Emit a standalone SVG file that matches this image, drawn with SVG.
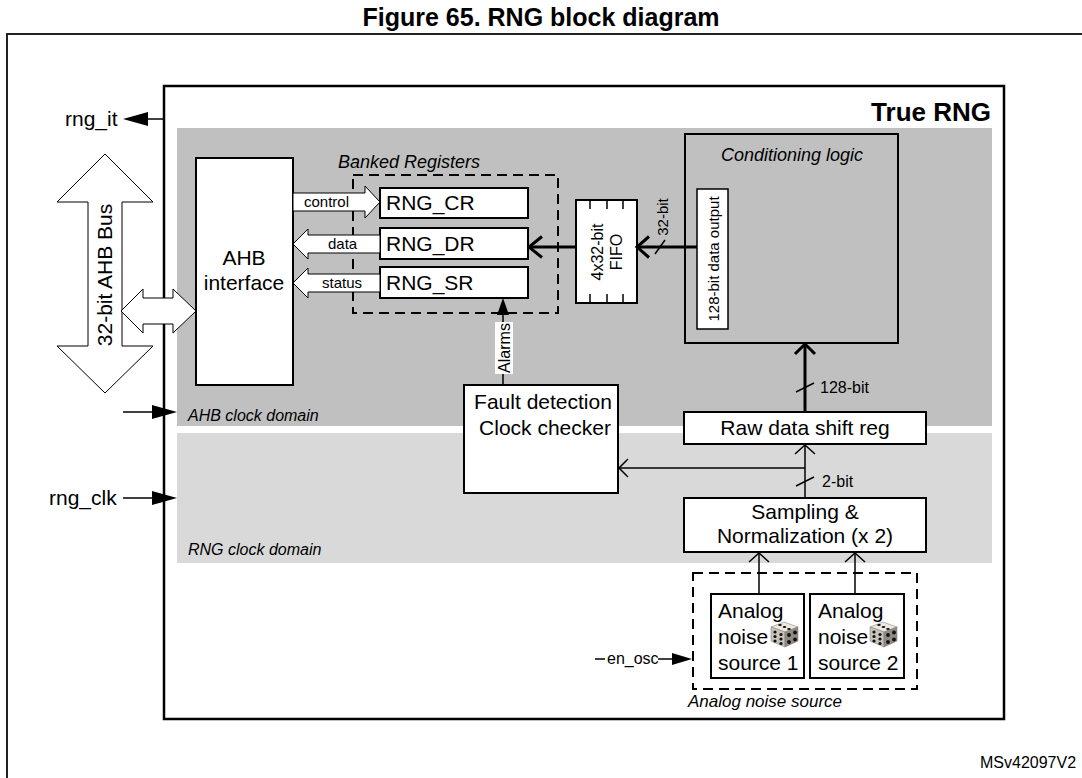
<svg xmlns="http://www.w3.org/2000/svg" width="1082" height="778" viewBox="0 0 1082 778">
<style>
.t{font-family:"Liberation Sans",Arial,sans-serif;fill:#000}
.i{font-style:italic}
.box{fill:#fff;stroke:#000;stroke-width:2}
.dash{fill:none;stroke:#000;stroke-width:2;stroke-dasharray:10 6}
.ln{fill:none;stroke:#000;stroke-width:1.5}
.th{fill:none;stroke:#000;stroke-width:3}
.fat{fill:#fff;stroke:#000;stroke-width:1}
.fill{fill:#000;stroke:none}
</style>
<defs>
<g id="die">
<polygon points="2,5 15,0 29,5 16,10" fill="#ebe7e1" stroke="#7a766f" stroke-width="0.5"/>
<polygon points="2,5 16,10 16,25 2,19" fill="#c9c4bb" stroke="#7a766f" stroke-width="0.5"/>
<polygon points="16,10 29,5 29,19 16,25" fill="#8f8a82" stroke="#7a766f" stroke-width="0.5"/>
<g fill="#111">
<ellipse cx="11" cy="3" rx="1.8" ry="1.1"/><ellipse cx="15.5" cy="5" rx="1.8" ry="1.1"/><ellipse cx="20" cy="7" rx="1.8" ry="1.1"/>
<circle cx="6" cy="10" r="1.6"/><circle cx="12" cy="12.5" r="1.6"/><circle cx="6" cy="14.5" r="1.6"/><circle cx="12" cy="17" r="1.6"/><circle cx="6" cy="19" r="1.6"/><circle cx="12" cy="21.5" r="1.6"/>
<circle cx="20" cy="13" r="1.9"/><circle cx="26" cy="10.5" r="1.9"/><circle cx="20" cy="20" r="1.9"/><circle cx="26" cy="17.5" r="1.9"/>
</g>
</g>
</defs>
<rect width="1082" height="778" fill="#fff"/>
<text class="t" x="541" y="26" font-size="25" font-weight="bold" text-anchor="middle">Figure 65. RNG block diagram</text>
<path d="M7,778 V34 H1082" fill="none" stroke="#222" stroke-width="2"/>

<g id="true-rng">
<rect x="164" y="86" width="840" height="633" fill="#fff" stroke="#000" stroke-width="2.5"/>
<text class="t" x="991" y="121" font-size="26" font-weight="bold" text-anchor="end">True RNG</text>
</g>
<g id="ahb-clock-domain">
<rect x="177" y="128" width="815" height="298" fill="#c0c0c0"/>
<text class="t i" x="188" y="421" font-size="16">AHB clock domain</text>
</g>
<g id="rng-clock-domain">
<rect x="177" y="433" width="815" height="130" fill="#d9d9d9"/>
<text class="t i" x="188" y="555" font-size="16">RNG clock domain</text>
</g>

<g id="ahb-interface">
<rect class="box" x="196" y="158" width="97" height="227"/>
<text class="t" x="244" y="265" font-size="21" text-anchor="middle">AHB</text>
<text class="t" x="244" y="290" font-size="21" text-anchor="middle">interface</text>
</g>

<g id="banked-registers">
<rect class="dash" x="353" y="175" width="205" height="138"/>
<text class="t i" x="338" y="168" font-size="18">Banked Registers</text>
</g>
<g id="rng-cr">
<rect class="box" x="380" y="188" width="148" height="30"/>
<text class="t" x="386" y="210" font-size="21">RNG_CR</text>
</g>
<g id="rng-dr">
<rect class="box" x="380" y="228" width="148" height="31"/>
<text class="t" x="386" y="251" font-size="21">RNG_DR</text>
</g>
<g id="rng-sr">
<rect class="box" x="380" y="267" width="148" height="31"/>
<text class="t" x="386" y="290" font-size="21">RNG_SR</text>
</g>

<g id="fifo">
<rect class="box" x="576" y="200" width="61" height="103"/>
<path class="ln" d="M590,200v9M607,200v9M623,200v9M590,303v-9M607,303v-9M623,303v-9"/>
<text class="t" transform="translate(603,252) rotate(-90)" font-size="16" text-anchor="middle">4x32-bit</text>
<text class="t" transform="translate(622,252) rotate(-90)" font-size="16" text-anchor="middle">FIFO</text>
</g>

<g id="conditioning-logic">
<rect x="685" y="134" width="213" height="209" fill="#c0c0c0" stroke="#000" stroke-width="2"/>
<text class="t i" x="792" y="161" font-size="18" text-anchor="middle">Conditioning logic</text>
<rect x="697" y="189" width="31" height="140" fill="#fff" stroke="#000" stroke-width="1.5"/>
<text class="t" transform="translate(719,259) rotate(-90)" font-size="15" text-anchor="middle">128-bit data output</text>
</g>

<g id="fault-detection">
<rect class="box" x="464" y="385" width="154" height="108"/>
<text class="t" x="543" y="409" font-size="21" text-anchor="middle">Fault detection</text>
<text class="t" x="545" y="435" font-size="21" text-anchor="middle">Clock checker</text>
</g>

<g id="raw-data-shift-reg">
<rect class="box" x="684" y="412" width="242" height="32"/>
<text class="t" x="805" y="435" font-size="21" text-anchor="middle">Raw data shift reg</text>
</g>

<g id="sampling">
<rect class="box" x="684" y="498" width="242" height="54"/>
<text class="t" x="805" y="519" font-size="21" text-anchor="middle">Sampling &amp;</text>
<text class="t" x="805" y="543" font-size="21" text-anchor="middle">Normalization (x 2)</text>
</g>

<g id="analog-noise-source">
<rect class="dash" x="693" y="573" width="224" height="116"/>
<text class="t i" x="688" y="707" font-size="17">Analog noise source</text>
</g>
<g id="noise-source-1">
<rect class="box" x="711" y="594" width="93" height="84"/>
<text class="t" x="718" y="618" font-size="21">Analog</text>
<text class="t" x="718" y="644" font-size="21">noise</text>
<text class="t" x="718" y="670" font-size="21">source 1</text>
<use href="#die" x="769" y="622"/>
</g>
<g id="noise-source-2">
<rect class="box" x="810" y="594" width="94" height="84"/>
<text class="t" x="818" y="618" font-size="21">Analog</text>
<text class="t" x="818" y="644" font-size="21">noise</text>
<text class="t" x="818" y="670" font-size="21">source 2</text>
<use href="#die" x="868" y="622"/>
</g>

<g id="bus">
<polygon class="fat" points="105,154 153,202 122,202 122,346 153,346 105,393 57,346 88,346 88,202 57,202"/>
<text class="t" transform="translate(112,275) rotate(-90)" font-size="21" text-anchor="middle">32-bit AHB Bus</text>
</g>

<g id="signals">
<text class="t" x="65" y="126" font-size="21">rng_it</text>
<text class="t" x="49" y="505" font-size="21">rng_clk</text>
<text class="t" x="607" y="664" font-size="16">en_osc</text>
<text class="t" x="980" y="768" font-size="16" fill="#222">MSv42097V2</text>
</g>

<g id="connectors">
<line class="ln" x1="164" y1="119" x2="144" y2="119"/>
<polygon class="fill" points="123,119 148,112 148,126"/>
<line class="ln" x1="123" y1="412" x2="155" y2="412"/>
<polygon class="fill" points="177,412 152,405 152,419"/>
<line class="ln" x1="123" y1="498" x2="155" y2="498"/>
<polygon class="fill" points="177,498 152,491 152,505"/>
<line class="ln" x1="595" y1="659" x2="605" y2="659"/>
<line class="ln" x1="658" y1="659" x2="675" y2="659"/>
<polygon class="fill" points="692,659 672,653 672,665"/>

<polygon class="fat" points="121,311 143,289 143,298 173,298 173,289 196,311 173,333 173,324 143,324 143,333"/>

<polygon class="fat" points="293,193 365,193 365,186 380,202 365,218 365,211 293,211"/>
<text class="t" x="304" y="207" font-size="15">control</text>
<polygon class="fat" points="380,235 308,235 308,229 293,244 308,259 308,253 380,253"/>
<text class="t" x="328" y="249" font-size="15">data</text>
<polygon class="fat" points="380,274 308,274 308,268 293,283 308,298 308,292 380,292"/>
<text class="t" x="322" y="288" font-size="15">status</text>

<line class="th" x1="576" y1="247" x2="531" y2="247"/>
<polyline class="th" points="542,236.5 529,247 542,257.5"/>
<line class="th" x1="697" y1="247" x2="639" y2="247"/>
<polyline class="th" points="649,236.5 637,247 649,257.5"/>
<line class="ln" x1="655" y1="254" x2="665" y2="240"/>
<text class="t" transform="translate(668,217) rotate(-90)" font-size="15" text-anchor="middle">32-bit</text>

<line class="ln" x1="503" y1="385" x2="503" y2="312"/>
<polygon class="fill" points="503,298 497,315 509,315"/>
<rect x="495" y="322" width="18" height="52" fill="#fff"/>
<text class="t" transform="translate(510,348) rotate(-90)" font-size="16" text-anchor="middle">Alarms</text>

<line class="th" x1="805" y1="412" x2="805" y2="345"/>
<polyline class="th" points="795,354 805,344 815,354"/>
<line class="ln" x1="796" y1="392" x2="814" y2="383"/>
<text class="t" x="820" y="393" font-size="16">128-bit</text>

<line class="ln" x1="805" y1="498" x2="805" y2="446"/>
<polyline class="ln" points="795,454 805,445 815,454"/>
<line class="ln" x1="796" y1="486" x2="814" y2="477"/>
<text class="t" x="822" y="487" font-size="16">2-bit</text>
<line class="ln" x1="805" y1="468" x2="620" y2="468"/>
<polyline class="ln" points="628,459 619,468 628,477"/>

<line class="ln" x1="759" y1="594" x2="759" y2="554"/>
<polyline class="ln" points="749,562 759,553 769,562"/>
<line class="ln" x1="855" y1="594" x2="855" y2="554"/>
<polyline class="ln" points="845,562 855,553 865,562"/>
</g>
</svg>
